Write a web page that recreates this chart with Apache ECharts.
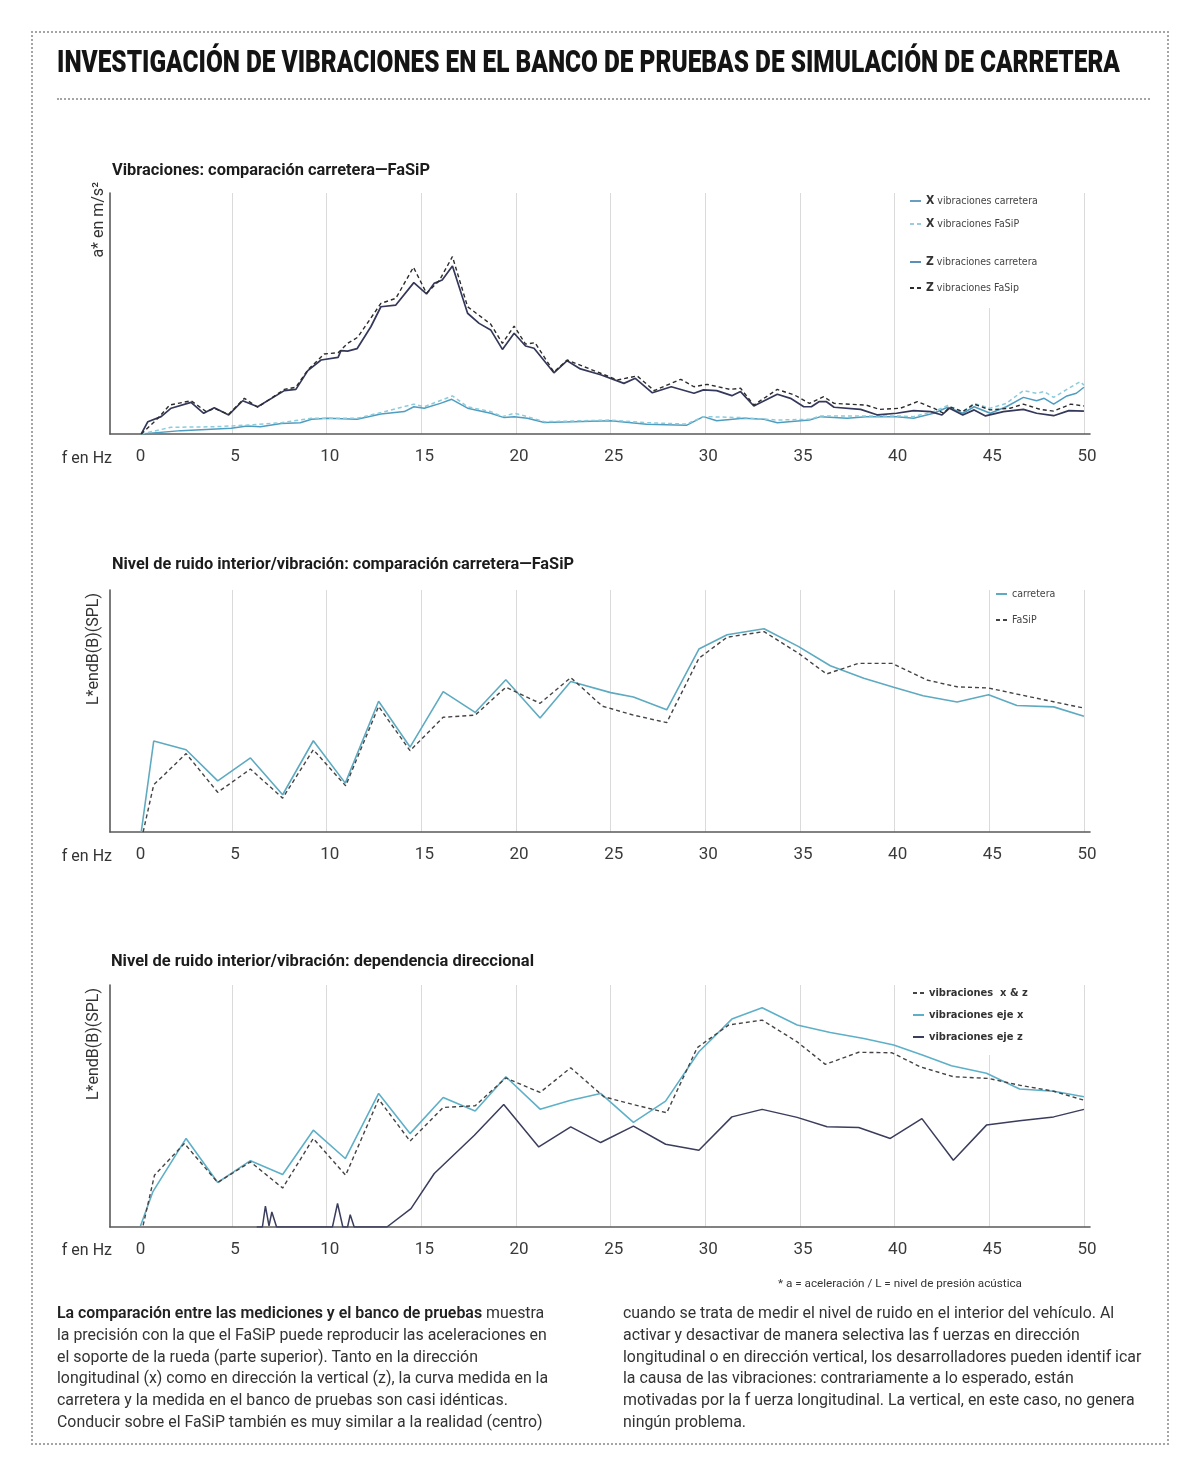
<!DOCTYPE html>
<html lang="es">
<head>
<meta charset="utf-8">
<title>Investigación de vibraciones</title>
<script src="https://cdn.jsdelivr.net/npm/echarts@6.0.0/dist/echarts.min.js"></script>
<style>
  html, body { margin:0; padding:0; background:#fff; }
  body { width:1200px; height:1477px; position:relative; overflow:hidden; font-family:Roboto, "Noto Sans", sans-serif; color:#2a2a2a; }
  #chart { position:absolute; left:0; top:0; width:1200px; height:1477px; }
  .ov { position:absolute; z-index:5; white-space:nowrap; }
  .fit { display:inline-block; transform-origin:left center; }
  #frame { position:absolute; left:31px; top:31px; width:1134px; height:1410px; border:2px dotted #a5a5a5; z-index:4; pointer-events:none; }
  #sep { position:absolute; left:57px; top:98px; width:1093px; border-top:2px dotted #a5a5a5; z-index:4; }
  .ttl { font-weight:900; font-size:31px; line-height:34px; color:#141414; letter-spacing:0; }
  .ctl { font-weight:700; font-size:17px; line-height:20px; color:#1c1c1c; }
  .fhz { font-size:16px; line-height:20px; color:#333; text-align:right; width:60px; }
  .yn { font-size:16px; line-height:18px; color:#333; writing-mode:vertical-rl; transform:rotate(180deg); }
  .para { font-size:15.9px; line-height:21.8px; color:#333; }
  .para b { font-weight:600; color:#222; }
  .fn { font-size:10.5px; line-height:14px; color:#333; }
</style>
</head>
<body>
<div id="chart"></div>
<div id="frame"></div>
<div id="sep"></div>

<div class="ov" style="left:57px; top:45px;"><span class="fit ttl" data-w="1063">INVESTIGACIÓN DE VIBRACIONES EN EL BANCO DE PRUEBAS DE SIMULACIÓN DE CARRETERA</span></div>

<div class="ov" style="left:112px; top:159px;"><span class="fit ctl" data-w="318">Vibraciones: comparación carretera—FaSiP</span></div>
<div class="ov" style="left:112px; top:553px;"><span class="fit ctl" data-w="462">Nivel de ruido interior/vibración: comparación carretera—FaSiP</span></div>
<div class="ov" style="left:111px; top:950px;"><span class="fit ctl" data-w="423">Nivel de ruido interior/vibración: dependencia direccional</span></div>

<div class="ov yn" style="left:89px; top:182px;">a* en m/s²</div>
<div class="ov yn" style="left:84px; top:593px;">L*endB(B)(SPL)</div>
<div class="ov yn" style="left:84px; top:988px;">L*endB(B)(SPL)</div>

<div class="ov fhz" style="left:52px; top:448px;">f en Hz</div>
<div class="ov fhz" style="left:52px; top:846px;">f en Hz</div>
<div class="ov fhz" style="left:52px; top:1240px;">f en Hz</div>

<div class="ov fn" style="left:778px; top:1277px;"><span class="fit" data-w="244">* a = aceleración / L = nivel de presión acústica</span></div>

<div class="ov para" style="left:57px; top:1302px;">
<b>La comparación entre las mediciones y el banco de pruebas</b> muestra<br>
la precisión con la que el FaSiP puede reproducir las aceleraciones en<br>
el soporte de la rueda (parte superior). Tanto en la dirección<br>
longitudinal (x) como en dirección la vertical (z), la curva medida en la<br>
carretera y la medida en el banco de pruebas son casi idénticas.<br>
Conducir sobre el FaSiP también es muy similar a la realidad (centro)
</div>
<div class="ov para" style="left:623px; top:1302px;">
cuando se trata de medir el nivel de ruido en el interior del vehículo. Al<br>
activar y desactivar de manera selectiva las f uerzas en dirección<br>
longitudinal o en dirección vertical, los desarrolladores pueden identif icar<br>
la causa de las vibraciones: contrariamente a lo esperado, están<br>
motivadas por la f uerza longitudinal. La vertical, en este caso, no genera<br>
ningún problema.
</div>

<script>
// ---------- DATA ----------
const tickLabels = [0, 5, 10, 15, 20, 25, 30, 35, 40, 45, 50];
const gridTicks = [5, 10, 15, 20, 25, 30, 35, 40, 45, 50];

// Chart 1: vibrations (f in Hz, relative acceleration)
const vibXRoad = [[0.2,0],[2.3,1.4],[4.95,2.4],[5.8,3.3],[6.5,3],[7.6,4.4],[8.6,4.7],[9.2,6.1],[10.05,6.5],[11.6,6.1],[12.86,8.3],[14.1,9.3],[14.6,11.3],[15.15,10.7],[16,12.7],[16.6,14.4],[17.44,10.7],[18.66,8.6],[19.37,6.8],[19.9,7.2],[20.6,6.5],[21.5,4.8],[25,5.5],[26.9,4],[29,3.6],[29.9,7.2],[30.6,5.5],[32,6.5],[33.1,6.1],[33.8,4.7],[35.5,5.8],[36.1,7.2],[37.5,6.5],[38.5,7.2],[40.1,7.2],[41,6.5],[42.06,8.6],[42.8,11.1],[43.6,8.6],[44.2,11.3],[45.05,8.6],[45.9,11.3],[46.8,15.2],[47.5,13.8],[47.9,14.8],[48.4,12.4],[49.1,15.8],[49.6,16.9],[50,19.4]];
const vibXFasip = [[0.2,0],[1.78,2.8],[4.06,3],[5.8,3.7],[7.6,4.7],[9.2,6.5],[11.6,6.5],[12.86,8.9],[14.6,12.4],[15.15,11.3],[16.64,15.8],[17.44,11.3],[18.66,9.3],[19.28,7.2],[19.9,8.6],[20.6,7.2],[21.5,5.1],[25,5.8],[26.9,4.7],[29,4.1],[29.9,7.2],[32,6.8],[33.8,5.8],[35.5,6.1],[36.1,7.5],[38.5,7.5],[40.1,7.5],[41,7.2],[42.06,9.3],[42.8,11.8],[43.6,9.3],[44.2,12.7],[45.05,10.7],[45.9,12.7],[46.8,18],[47.5,16.9],[47.9,17.6],[48.4,15.2],[49.1,18.5],[49.8,21.7],[50,20.3]];
const vibZRoad = [[0.2,0],[0.55,5.1],[1.25,7.2],[1.78,10.7],[2.83,13.1],[3.5,8.6],[4.06,10.9],[4.82,7.9],[5.56,13.8],[6.35,11.3],[7.76,18],[8.37,18.5],[9,26.3],[9.7,30.7],[10.6,31.8],[10.75,34.6],[11.1,34.4],[11.6,35.4],[12.33,44.5],[12.86,52.8],[13.65,53.5],[14.6,62.8],[15.27,58.1],[15.67,62.5],[16.1,63.9],[16.64,69.7],[17.44,50.1],[18.05,45.9],[18.66,43.2],[19.28,35.1],[19.9,41.8],[20.5,36.5],[20.95,35.6],[22,25.4],[22.7,30.4],[23.4,27],[24.47,24.6],[25.7,21],[26.3,23.1],[27.2,17.1],[28.2,19.6],[29.4,16.9],[29.9,18.3],[30.6,18],[31.4,15.9],[31.86,17.6],[32.56,11.6],[33.8,16.5],[34.5,14.8],[35.2,11.3],[35.6,11.3],[36,13.4],[36.4,13.4],[36.8,11.1],[38.2,10.2],[39.1,7.9],[40.1,8.6],[41,9.7],[41.9,9.3],[42.5,7.9],[42.9,10.7],[43.6,7.9],[44.2,10],[44.8,7.5],[45.75,9.3],[46.8,10.2],[47.5,8.6],[48.4,7.6],[49.2,9.7],[50,9.5]];
const vibZFasip = [[0.2,0],[1.08,6.5],[1.7,12],[2.83,13.8],[3.63,9.3],[4.06,10.6],[4.82,8.2],[5.65,14.8],[6.35,11.1],[7.76,18.5],[8.37,19.4],[9,26.6],[9.87,33.2],[10.6,33.7],[11.1,37.6],[11.63,40.1],[12.86,54.2],[13.65,56.3],[14.58,69.2],[15.27,58.4],[15.94,63.6],[16.64,73.6],[17.44,52.8],[18.66,45.6],[19.28,37.6],[19.9,44.8],[20.5,37.3],[21,37.9],[22,25.7],[22.7,30.7],[24.47,25.2],[25.35,22.4],[26.4,24.1],[27.3,18],[28.7,22.7],[29.4,19.6],[30.1,20.6],[31.3,18.5],[31.86,19],[32.56,12],[33.8,18.5],[34.7,16.2],[35.5,12.7],[36.25,15.5],[36.8,12.7],[38.5,12],[39.2,10.2],[40.3,10.7],[41.2,13.4],[42.06,10.7],[42.6,8.6],[42.9,11.3],[43.6,9.3],[44.2,12.4],[45.05,10],[46.1,10.7],[46.8,12.4],[47.7,10.2],[48.4,9.5],[49.3,12.4],[50,11.6]];

// Chart 2: interior noise, road vs FaSiP
const noiseRoad = [[0.2,0],[0.86,37.6],[2.57,34],[4.24,21.1],[5.97,30.6],[7.67,15.4],[9.29,37.7],[10.98,20.2],[12.74,54],[14.4,35.1],[16.15,58],[17.84,49.4],[19.46,62.9],[21.27,47.1],[22.89,62.2],[25,57.6],[26.2,55.8],[27.96,50.5],[29.66,75.6],[31.15,81.5],[33.1,84],[34.93,76.6],[36.6,68.7],[38.37,63.5],[39.95,59.8],[41.5,56.3],[43.3,53.7],[44.96,56.7],[46.46,52.3],[48.4,51.7],[50,47.8]];
const noiseFasip = [[0.3,0],[0.86,19.5],[2.57,32.4],[4.24,16.4],[5.97,26],[7.67,14],[9.29,34],[11,19.1],[12.74,51.9],[14.4,33.6],[16.15,47.4],[17.84,48.3],[19.46,59.8],[21.27,53.2],[22.89,63.8],[24.56,52],[26.2,48.3],[27.96,45.2],[29.66,71.8],[31.15,80.5],[33.1,82.8],[34.93,73.8],[36.4,65.3],[38.1,69.7],[39.86,69.7],[41.7,62.8],[43.3,60],[44.96,59.5],[46.46,57],[48.4,53.8],[50,51.2]];

// Chart 3: directional dependence
const dirXZ = [[0.3,0.7],[0.9,21.4],[2.48,34.5],[4.24,18.4],[5.97,26.9],[7.67,16.1],[9.29,36.6],[11,21.4],[12.74,52.8],[14.4,35.5],[16.15,49.4],[17.84,50.1],[19.46,61.6],[21.27,55.6],[22.89,65.8],[24.64,53.8],[26.2,50.6],[27.96,47.2],[29.57,74.1],[31.24,83.5],[33,85.5],[34.85,76.5],[36.34,67.2],[38.1,72.2],[39.86,72],[41.35,66.2],[43.1,62.1],[44.96,61.4],[46.6,58.6],[48.4,56.1],[50,52.4]];
const dirX = [[0.16,0.4],[0.81,14.5],[2.57,36.6],[4.24,18.4],[5.97,27.4],[7.67,21.7],[9.29,40],[10.98,28.3],[12.74,55.2],[14.4,38.6],[16.15,53.5],[17.84,47.9],[19.46,62.1],[21.27,48.7],[22.89,52.4],[24.47,55.2],[26.2,43.2],[27.9,52],[29.66,72.4],[31.4,85.9],[33,90.6],[34.85,83.5],[36.6,80.4],[38.37,77.9],[39.95,75.2],[41.5,71],[43,66.6],[44.85,63.5],[46.6,57],[48.4,56.1],[50,53.8]];
const dirZ = [[6.3,0],[6.6,0],[6.76,8.6],[6.95,0.5],[7.1,6.2],[7.35,0],[10.3,0],[10.57,9.7],[10.85,0],[11.1,0],[11.24,5.1],[11.45,0],[13.18,0],[14.45,7.6],[15.68,22.1],[17.8,37.9],[19.35,50.6],[21.2,33.1],[22.89,41.4],[24.47,34.9],[26.2,41.7],[27.9,34.2],[29.66,31.7],[31.4,45.5],[33,48.6],[34.85,45.3],[36.43,41.4],[38.1,41.1],[39.77,36.6],[41.44,44.8],[43.1,27.6],[44.85,42.1],[46.6,43.9],[48.4,45.5],[50,48.6]];

// ---------- CHART ----------
const gridTops = [193, 590, 985];
const gridHeights = [241, 242, 242];

const grids = gridTops.map((t, i) => ({ left: 110, top: t, width: 980, height: gridHeights[i], outerBoundsMode: 'none', containLabel: false }));

const xAxes = gridTops.map((t, i) => ({
  gridIndex: i, type: 'value', min: -1.45, max: 50.32,
  axisLine: { show: true, onZero: false, lineStyle: { color: '#5a5a5a', width: 1.6 } },
  axisTick: { show: false, customValues: gridTicks },
  splitLine: { show: true, lineStyle: { color: '#dadada', width: 1 } },
  axisLabel: { customValues: tickLabels, fontFamily: 'Roboto', fontSize: 17, color: '#3a3a3a', margin: 14, padding: [0, 0, 0, 6] }
}));

const yAxes = gridTops.map((t, i) => ({
  gridIndex: i, type: 'value', min: 0, max: 100,
  axisLine: { show: true, onZero: false, lineStyle: { color: '#5a5a5a', width: 1.6 } },
  axisTick: { show: false }, axisLabel: { show: false }, splitLine: { show: false }
}));

function line(name, data, gi, color, dashed, width) {
  return {
    name, type: 'line', data, xAxisIndex: gi, yAxisIndex: gi, z: 6,
    symbol: 'none', showSymbol: false, silent: true, smooth: false,
    lineStyle: { color, width: width || 1.5, type: dashed ? [4, 3] : 'solid' },
    itemStyle: { color }
  };
}

const C = {
  xRoad: '#4f9dc0', xFasip: '#8ccbdc', zRoad: '#34385a', zFasip: '#2c2c2c',
  nRoad: '#5eaac0', nFasip: '#444444',
  dX: '#5eb0c8', dZ: '#3a3d5c', dXZ: '#444444'
};

const series = [
  line('X vibraciones carretera', vibXRoad, 0, C.xRoad, false, 1.5),
  line('X vibraciones FaSiP', vibXFasip, 0, C.xFasip, true, 1.5),
  line('Z vibraciones carretera', vibZRoad, 0, C.zRoad, false, 1.7),
  line('Z vibraciones FaSip', vibZFasip, 0, C.zFasip, true, 1.4),
  line('carretera', noiseRoad, 1, C.nRoad, false, 1.6),
  line('FaSiP', noiseFasip, 1, C.nFasip, true, 1.4),
  line('vibraciones eje z', dirZ, 2, C.dZ, false, 1.5),
  line('vibraciones eje x', dirX, 2, C.dX, false, 1.6),
  line('vibraciones  x & z', dirXZ, 2, C.dXZ, true, 1.4)
];

const legFont = '"Liberation Sans Narrow", "DejaVu Sans Condensed", Roboto, sans-serif';
const richX = { b: { fontSize: 12, fontWeight: 'bold', color: '#333', fontFamily: legFont } };
const fmtX = n => '{b|' + n.charAt(0) + '} ' + n.slice(2);
const noSym = { opacity: 0 };

const legends = [
  { orient: 'vertical', left: 900, top: 193, padding: [2, 20, 24, 9], itemGap: 11, itemWidth: 11, itemHeight: 10, z: 4,
    backgroundColor: '#fff', formatter: fmtX, itemStyle: noSym,
    textStyle: { fontSize: 10.5, lineHeight: 12, color: '#444', fontFamily: legFont, rich: richX },
    data: [{ name: 'X vibraciones carretera', lineStyle: { color: '#6a9ec0' } }, { name: 'X vibraciones FaSiP', lineStyle: { color: '#9ccbe0' } }] },
  { orient: 'vertical', left: 900, top: 254, padding: [2, 20, 14, 9], itemGap: 14, itemWidth: 11, itemHeight: 10, z: 4,
    backgroundColor: '#fff', formatter: fmtX, itemStyle: noSym,
    textStyle: { fontSize: 10.5, lineHeight: 12, color: '#444', fontFamily: legFont, rich: richX },
    data: [{ name: 'Z vibraciones carretera', lineStyle: { color: '#5b8fb8' } }, { name: 'Z vibraciones FaSip' }] },
  { orient: 'vertical', left: 985, top: 582, padding: [6, 10, 6, 10], itemGap: 14, itemWidth: 11, itemHeight: 10, z: 4,
    itemStyle: noSym,
    textStyle: { fontSize: 10.5, lineHeight: 12, color: '#444', fontFamily: legFont },
    data: ['carretera', 'FaSiP'] },
  { orient: 'vertical', left: 903, top: 983, padding: [4, 20, 12, 9], itemGap: 10, itemWidth: 11, itemHeight: 10, z: 4,
    backgroundColor: '#fff', itemStyle: noSym,
    textStyle: { fontSize: 11, lineHeight: 12, color: '#333', fontWeight: 'bold', fontFamily: legFont },
    data: ['vibraciones  x & z', 'vibraciones eje x', 'vibraciones eje z'] }
];

const chart = echarts.init(document.getElementById('chart'), null, { renderer: 'canvas' });
chart.setOption({
  animation: false,
  backgroundColor: '#fff',
  grid: grids,
  xAxis: xAxes,
  yAxis: yAxes,
  legend: legends,
  tooltip: { show: false },
  series
});

function fitAll() {
  document.querySelectorAll('[data-w]').forEach(el => {
    el.style.transform = 'none';
    const w = el.getBoundingClientRect().width;
    if (w > 0) el.style.transform = 'scaleX(' + (parseFloat(el.dataset.w) / w) + ')';
  });
}
fitAll();
if (document.fonts && document.fonts.ready) document.fonts.ready.then(fitAll);
</script>
</body>
</html>
